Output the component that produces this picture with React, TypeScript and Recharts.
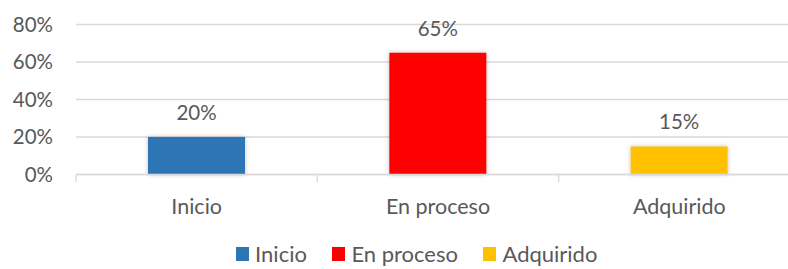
import React from "react";
import { BarChart, Bar, XAxis, YAxis, CartesianGrid, Legend, LabelList, Cell } from "recharts";

const categories = ["Inicio", "En proceso", "Adquirido"];
const values = [20, 65, 15];
const colors = ["#2E75B6", "#FF0000", "#FFC000"];
const yTicks = [0, 20, 40, 60, 80];

const data = categories.map((name, i) => ({ name, value: values[i] }));

const FONT = "Lato, 'Open Sans', sans-serif";
const TEXT = "#595959";
const GRID = "#d9d9d9";

const CHART_W = 833;
const CHART_H = 269;
const MARGIN = { top: 24.5, right: 33, left: 0, bottom: 0 };
const Y_W = 76;
const BAND = (CHART_W - MARGIN.right - MARGIN.left - Y_W) / categories.length;
const LEGEND_H = 26;

const CategoryTick = (props: any) => {
  const { x, y, payload } = props;
  const left = x - BAND / 2;
  return (
    <g>
      <line x1={left} x2={left} y1={y} y2={y + 7.5} stroke={GRID} strokeWidth={1.3} />
      <text x={x} y={y + 39.5} textAnchor="middle" fill={TEXT} fontSize={21.5} fontFamily={FONT}>
        {payload.value}
      </text>
    </g>
  );
};

const LegendContent = () => (
  <div
    style={{
      height: LEGEND_H,
      display: "flex",
      justifyContent: "center",
      alignItems: "flex-start",
      fontFamily: FONT,
      fontSize: 22,
      color: TEXT,
      whiteSpace: "nowrap",
    }}
  >
    {categories.map((c, i) => (
      <div key={c} style={{ display: "flex", alignItems: "center", marginLeft: i === 0 ? 0 : 25, height: 22 }}>
        <span style={{ display: "inline-block", width: 13.5, height: 13.5, background: colors[i], marginRight: 6 }} />
        <span style={{ lineHeight: "22px" }}>{c}</span>
      </div>
    ))}
  </div>
);

export default function App() {
  return (
    <div style={{ position: "absolute", left: 0, top: 0, width: 788, height: 269, overflow: "hidden", background: "#fff" }}>
      <BarChart width={CHART_W} height={CHART_H} data={data} margin={MARGIN}>
        <defs>
          <filter id="barShadow" x="-20%" y="-20%" width="140%" height="140%">
            <feDropShadow dx="0" dy="0" stdDeviation="2" floodColor="#000" floodOpacity="0.25" />
          </filter>
        </defs>
        <CartesianGrid vertical={false} stroke={GRID} strokeWidth={1.3} />
        <XAxis
          dataKey="name"
          height={CHART_H - 174.5 - MARGIN.top * 0 - LEGEND_H}
          axisLine={{ stroke: GRID, strokeWidth: 1.3 }}
          tickLine={false}
          tickSize={0}
          tickMargin={0}
          tick={<CategoryTick />}
          interval={0}
        />
        <YAxis
          width={Y_W}
          domain={[0, 80]}
          ticks={yTicks}
          axisLine={false}
          tickLine={false}
          tickSize={8}
          tickMargin={15}
          tickFormatter={(v: number) => `${v}%`}
          tick={{ fill: TEXT, fontSize: 20.5, fontFamily: FONT }}
        />
        <Legend
          verticalAlign="bottom"
          content={<LegendContent />}
          wrapperStyle={{ left: 0, width: CHART_W, bottom: 0 }}
        />
        <Bar dataKey="value" barSize={97} isAnimationActive={false} filter="url(#barShadow)">
          {data.map((d, i) => (
            <Cell key={d.name} fill={colors[i]} />
          ))}
          <LabelList
            dataKey="value"
            position="top"
            offset={17}
            formatter={(v: any) => `${v}%`}
            fill={TEXT}
            fontSize={20.5}
            fontFamily={FONT}
          />
        </Bar>
      </BarChart>
    </div>
  );
}
